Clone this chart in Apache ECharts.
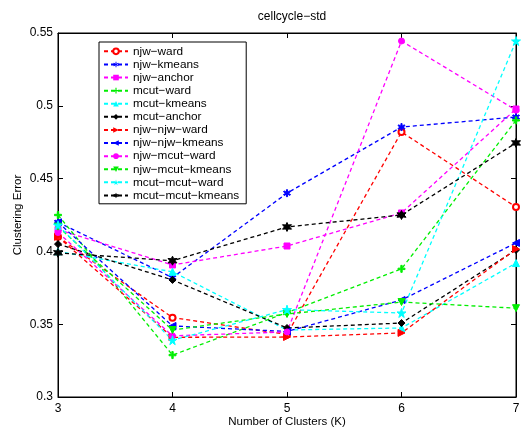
<!DOCTYPE html>
<html><head><meta charset="utf-8">
<script src="https://cdn.jsdelivr.net/npm/echarts@6/dist/echarts.min.js"></script>
<style>html,body{margin:0;padding:0;background:#fff}#c{width:521px;height:429px}</style>
</head><body><div id="c"></div>
<script>
var K = [3, 4, 5, 6, 7];
var yTicks = [0.3, 0.35, 0.4, 0.45, 0.5, 0.55];
var names = ['njw\u2212ward','njw\u2212kmeans','njw\u2212anchor','mcut\u2212ward','mcut\u2212kmeans','mcut\u2212anchor','njw\u2212njw\u2212ward','njw\u2212njw\u2212kmeans','njw\u2212mcut\u2212ward','njw\u2212mcut\u2212kmeans','mcut\u2212mcut\u2212ward','mcut\u2212mcut\u2212kmeans'];
var njwWard        = [0.410, 0.3545, 0.343, 0.482, 0.4305];
var njwKmeans      = [0.420, 0.382, 0.440, 0.4854, 0.4923];
var njwAnchor      = [0.415, 0.3907, 0.4037, 0.4264, 0.4978];
var mcutWard       = [0.425, 0.3288, 0.358, 0.388, 0.490];
var mcutKmeans     = [0.400, 0.386, 0.346, 0.3474, 0.392];
var mcutAnchor     = [0.405, 0.3804, 0.3474, 0.3508, 0.401];
var njwNjwWard     = [0.410, 0.341, 0.3412, 0.344, 0.4016];
var njwNjwKmeans   = [0.420, 0.3488, 0.345, 0.3666, 0.4058];
var njwMcutWard    = [0.413, 0.342, 0.3447, 0.5445, 0.497];
var njwMcutKmeans  = [0.417, 0.346, 0.357, 0.3652, 0.361];
var mcutMcutWard   = [0.418, 0.339, 0.360, 0.3577, 0.5445];
var mcutMcutKmeans = [0.399, 0.3936, 0.4168, 0.425, 0.4745];
var allVals = [njwWard,njwKmeans,njwAnchor,mcutWard,mcutKmeans,mcutAnchor,njwNjwWard,njwNjwKmeans,njwMcutWard,njwMcutKmeans,mcutMcutWard,mcutMcutKmeans];

var PLUS = 'path://M4,0L6,0L6,4L10,4L10,6L6,6L6,10L4,10L4,6L0,6L0,4L4,4Z';
var AST = 'path://M4.3,0L5.7,0L5.7,3.3L8.6,1.6L9.3,2.8L6.4,4.5L9.3,6.2L8.6,7.4L5.7,5.7L5.7,9L4.3,9L4.3,5.7L1.4,7.4L0.7,6.2L3.6,4.5L0.7,2.8L1.4,1.6L4.3,3.3Z';
var STAR = 'path://M50,0L61,35L98,35L68,57L79,91L50,70L21,91L32,57L2,35L39,35Z';
var HEX = 'path://M50,0L62,28L93,25L75,50L93,75L62,72L50,100L38,72L7,75L25,50L7,25L38,28Z';
var styles = [
  {c:'#ff0000', s:'emptyCircle', sz:6},
  {c:'#0000ff', s:AST, sz:7},
  {c:'#ff00ff', s:'rect', sz:6},
  {c:'#00ee00', s:PLUS, sz:7},
  {c:'#00ffff', s:'triangle', sz:7},
  {c:'#000000', s:'diamond', sz:7},
  {c:'#ff0000', s:'triangle', sz:7, r:-90},
  {c:'#0000ff', s:'triangle', sz:7, r:90},
  {c:'#ff00ff', s:'circle', sz:6},
  {c:'#00ee00', s:'triangle', sz:7, r:180},
  {c:'#00ffff', s:STAR, sz:9},
  {c:'#000000', s:HEX, sz:9}
];
var series = names.map(function(n, i){
  var st = styles[i];
  return {
    name: n, type: 'line',
    data: K.map(function(k, j){ return [k, allVals[i][j]]; }),
    symbol: st.s, symbolSize: st.sz, symbolRotate: st.r || 0,
    showAllSymbol: true,
    lineStyle: {color: st.c, width: 1.3, type: [4, 3]},
    itemStyle: {color: st.c, borderColor: st.c},
    emphasis: {disabled: true},
    animation: false, z: 2
  };
});
var fmt = function(v){ return parseFloat(v.toFixed(2)).toString(); };
var FONT = 'Liberation Sans';
var chart = echarts.init(document.getElementById('c'), null, {renderer:'canvas'});
chart.setOption({
  animation: false,
  textStyle: {fontFamily: FONT},
  title: {text: 'cellcycle\u2212std', left: 287, textAlign: 'center', top: 6,
    textStyle: {fontFamily: FONT, fontSize: 12, fontWeight: 'normal', color: '#000'}},
  grid: {left: 58, right: 5, top: 33, bottom: 32, show: true, borderColor: '#000', borderWidth: 1,
    containLabel: false, outerBoundsMode: 'none'},
  legend: {
    orient: 'vertical', left: 99, top: 42, data: names,
    itemWidth: 24, itemHeight: 7, itemGap: 0.4,
    backgroundColor: '#fff', borderColor: '#000', borderWidth: 1,
    padding: [3, 7, 2, 4],
    textStyle: {fontFamily: FONT, fontSize: 11.8, color: '#000', lineHeight: 12.7},
    selectedMode: false
  },
  xAxis: [{
    type: 'value', min: 3, max: 7, interval: 1,
    name: 'Number of Clusters (K)', nameLocation: 'middle', nameGap: 19, nameMoveOverlap: false,
    nameTextStyle: {fontFamily: FONT, fontSize: 11.5, color: '#000'},
    axisLine: {lineStyle: {color: '#000'}},
    axisTick: {inside: true, length: 5, lineStyle: {color: '#000'}},
    axisLabel: {fontFamily: FONT, fontSize: 12, color: '#000', margin: 6},
    splitLine: {show: false}
  }, {
    type: 'value', min: 3, max: 7, interval: 1, position: 'top',
    axisLine: {lineStyle: {color: '#000'}},
    axisTick: {inside: true, length: 5, lineStyle: {color: '#000'}},
    axisLabel: {show: false}, splitLine: {show: false}
  }],
  yAxis: [{
    type: 'value', min: 0.3, max: 0.55, interval: 0.05,
    name: 'Clustering Error', nameLocation: 'middle', nameGap: 34, nameMoveOverlap: false,
    nameTextStyle: {fontFamily: FONT, fontSize: 11.5, color: '#000'},
    axisLine: {lineStyle: {color: '#000'}},
    axisTick: {inside: true, length: 5, lineStyle: {color: '#000'}},
    axisLabel: {fontFamily: FONT, fontSize: 12, color: '#000', formatter: fmt, margin: 5},
    splitLine: {show: false}
  }, {
    type: 'value', min: 0.3, max: 0.55, interval: 0.05, position: 'right',
    axisLine: {lineStyle: {color: '#000'}},
    axisTick: {inside: true, length: 5, lineStyle: {color: '#000'}},
    axisLabel: {show: false}, splitLine: {show: false}
  }],
  series: series
});
</script></body></html>
